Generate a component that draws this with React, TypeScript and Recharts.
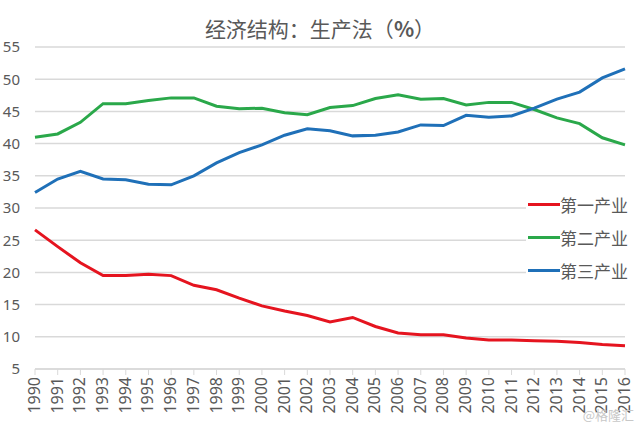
import React from "react";
import { LineChart, Line, XAxis, YAxis, CartesianGrid } from "recharts";

const years = [
  "1990", "1991", "1992", "1993", "1994", "1995", "1996", "1997", "1998", "1999",
  "2000", "2001", "2002", "2003", "2004", "2005", "2006", "2007", "2008", "2009",
  "2010", "2011", "2012", "2013", "2014", "2015", "2016",
];

const primary = [
  26.6, 24.0, 21.5, 19.5, 19.5, 19.7, 19.5, 18.0, 17.3, 16.0,
  14.8, 14.0, 13.3, 12.3, 13.0, 11.6, 10.6, 10.3, 10.3, 9.8,
  9.5, 9.5, 9.4, 9.3, 9.1, 8.8, 8.6,
];

const secondary = [
  41.0, 41.5, 43.3, 46.2, 46.2, 46.7, 47.1, 47.1, 45.8, 45.4,
  45.5, 44.8, 44.5, 45.6, 45.9, 47.0, 47.6, 46.9, 47.0, 46.0,
  46.4, 46.4, 45.3, 44.0, 43.1, 40.9, 39.8,
];

const tertiary = [
  32.4, 34.5, 35.7, 34.5, 34.4, 33.7, 33.6, 35.0, 37.0, 38.6,
  39.8, 41.3, 42.3, 42.0, 41.2, 41.3, 41.8, 42.9, 42.8, 44.4,
  44.1, 44.3, 45.5, 46.9, 48.0, 50.2, 51.6,
];

const yTicks = [5, 10, 15, 20, 25, 30, 35, 40, 45, 50, 55];

const series = [
  { key: "primary", name: "第一产业", color: "#e5141f" },
  { key: "secondary", name: "第二产业", color: "#2aa84a" },
  { key: "tertiary", name: "第三产业", color: "#1f70b8" },
];

const data = years.map((year, i) => ({
  year,
  primary: primary[i],
  secondary: secondary[i],
  tertiary: tertiary[i],
}));

const numFont = "'Noto Sans', 'Liberation Sans', sans-serif";
const cjkFont = "'Noto Sans CJK SC', sans-serif";
const textColor = "#595959";
const gridColor = "#d9d9d9";

function YearTick({ x, y, payload }: any) {
  return (
    <g transform={`translate(${x},${y})`}>
      <text
        x={0}
        y={0}
        dy={5}
        textAnchor="end"
        transform="rotate(-90)"
        fill={textColor}
        fontSize={16}
        fontFamily={numFont}
      >
        {payload.value}
      </text>
    </g>
  );
}

// legend sits on top of the plot, white box hides the grid behind it
function SideLegend() {
  return (
    <div
      style={{
        position: "absolute",
        left: 526,
        top: 188,
        width: 114,
        background: "#fff",
        paddingLeft: 2,
      }}
    >
      {series.map((s) => (
        <div key={s.key} style={{ display: "flex", alignItems: "center", height: 33 }}>
          <div style={{ width: 32, height: 3, background: s.color }} />
          <span style={{ fontFamily: cjkFont, fontSize: 17, color: textColor, lineHeight: "20px" }}>
            {s.name}
          </span>
        </div>
      ))}
    </div>
  );
}

export default function App() {
  return (
    <div style={{ position: "fixed", left: 0, top: 0, width: 640, height: 430, background: "#fff" }}>
      <div
        style={{
          position: "absolute",
          top: 13,
          left: 0,
          width: 640,
          textAlign: "center",
          fontFamily: cjkFont,
          fontSize: 21,
          color: textColor,
          zIndex: 2,
        }}
      >
        经济结构：生产法（<b>%</b>）
      </div>
      <LineChart
        width={640}
        height={430}
        data={data}
        margin={{ top: 47, right: 15, bottom: 0, left: 0 }}
      >
        <CartesianGrid stroke={gridColor} strokeWidth={1.5} vertical={false} />
        <XAxis
          dataKey="year"
          interval={0}
          height={61}
          tick={<YearTick />}
          tickSize={6}
          tickMargin={2}
          axisLine={{ stroke: gridColor, strokeWidth: 1.5 }}
          tickLine={{ stroke: gridColor }}
        />
        <YAxis
          domain={[5, 55]}
          ticks={yTicks}
          width={35}
          axisLine={false}
          tickLine={false}
          tickSize={0}
          tickMargin={15}
          tick={{ fill: textColor, fontSize: 15, fontFamily: numFont }}
        />
        {series.map((s) => (
          <Line
            key={s.key}
            type="linear"
            dataKey={s.key}
            name={s.name}
            stroke={s.color}
            strokeWidth={3}
            dot={false}
            isAnimationActive={false}
          />
        ))}
      </LineChart>
      <SideLegend />
      <div
        style={{
          position: "absolute",
          right: 6,
          bottom: 6,
          fontFamily: cjkFont,
          fontSize: 13,
          color: "#c8c8c8",
        }}
      >
        @格隆汇
      </div>
    </div>
  );
}
